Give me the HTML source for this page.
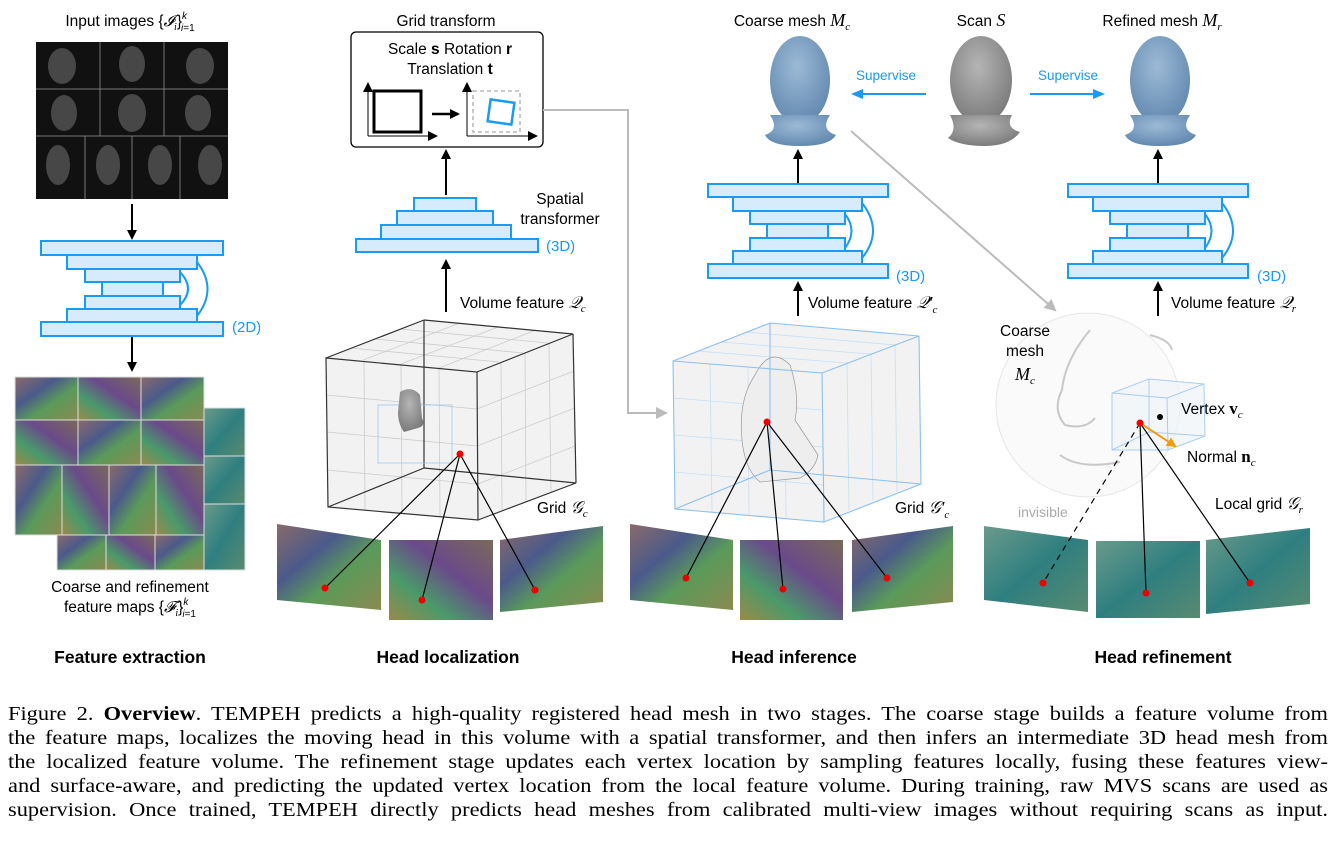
<!DOCTYPE html>
<html><head><meta charset="utf-8"><style>
body{margin:0;background:#fff;width:1336px;height:850px;overflow:hidden;position:relative}
svg{position:absolute;left:0;top:0}
.cap{position:absolute;left:8px;width:1195px;transform:scaleX(1.1046);transform-origin:0 0;font-family:"Liberation Serif",serif;font-size:20.3px;line-height:24px;color:#000}
.cap div{text-align:justify;text-align-last:justify;white-space:nowrap;height:24px}
</style></head><body>
<svg width="1336" height="850" viewBox="0 0 1336 850" font-family="Liberation Sans, sans-serif">
<defs>
<marker id="ab" markerWidth="10" markerHeight="10" refX="8" refY="5" orient="auto" markerUnits="userSpaceOnUse"><path d="M0,0 L10,5 L0,10 z" fill="#000"/></marker>
<marker id="ag" markerWidth="12" markerHeight="12" refX="10" refY="6" orient="auto" markerUnits="userSpaceOnUse"><path d="M0,0 L12,6 L0,12 z" fill="#bbb"/></marker>
<marker id="au" markerWidth="12" markerHeight="12" refX="10" refY="6" orient="auto" markerUnits="userSpaceOnUse"><path d="M0,1 L12,6 L0,11 z" fill="#1a9af0"/></marker>
<marker id="ao" markerWidth="10" markerHeight="10" refX="8" refY="5" orient="auto" markerUnits="userSpaceOnUse"><path d="M0,0 L10,5 L0,10 z" fill="#f39c12"/></marker>
<linearGradient id="fm1" x1="0" y1="0" x2="1" y2="1"><stop offset="0" stop-color="#8a6a6a"/><stop offset=".35" stop-color="#4b5a8a"/><stop offset=".6" stop-color="#5a9a5a"/><stop offset="1" stop-color="#8a8a50"/></linearGradient>
<linearGradient id="fm2" x1="1" y1="0" x2="0" y2="1"><stop offset="0" stop-color="#7a6a5a"/><stop offset=".4" stop-color="#6a4a8a"/><stop offset=".7" stop-color="#4a9a6a"/><stop offset="1" stop-color="#9a8a4a"/></linearGradient>
<linearGradient id="fm3" x1="0" y1="0" x2="1" y2="1"><stop offset="0" stop-color="#6a9a8a"/><stop offset=".5" stop-color="#2f7f80"/><stop offset="1" stop-color="#5a8a70"/></linearGradient>
<radialGradient id="hb" cx=".45" cy=".35" r=".7"><stop offset="0" stop-color="#9cbad6"/><stop offset="1" stop-color="#5f86ad"/></radialGradient>
<radialGradient id="hg" cx=".45" cy=".35" r=".7"><stop offset="0" stop-color="#b5b5b5"/><stop offset="1" stop-color="#777"/></radialGradient>
</defs>

<text x="130" y="26" font-size="15.5" text-anchor="middle">Input images {<tspan font-family="Liberation Serif" font-style="italic">𝓘<tspan font-size="10" dy="4">i</tspan></tspan><tspan dy="-4">}</tspan><tspan font-size="10" font-style="italic" dy="-7">k</tspan><tspan font-size="10" dx="-6" dy="12" font-style="italic">i</tspan><tspan font-size="10" dy="0">=1</tspan></text>
<rect x="36" y="42" width="192" height="157" fill="#111"/>
<g fill="#555" opacity=".8">
<ellipse cx="62" cy="66" rx="14" ry="18"/><ellipse cx="132" cy="64" rx="13" ry="18"/><ellipse cx="200" cy="66" rx="14" ry="18"/>
<ellipse cx="64" cy="113" rx="13" ry="18"/><ellipse cx="132" cy="113" rx="14" ry="19"/><ellipse cx="198" cy="113" rx="13" ry="18"/>
<ellipse cx="58" cy="165" rx="12" ry="20"/><ellipse cx="108" cy="165" rx="12" ry="20"/><ellipse cx="160" cy="165" rx="12" ry="20"/><ellipse cx="210" cy="165" rx="12" ry="20"/>
</g>
<g stroke="#777" stroke-width="1"><line x1="36" y1="89" x2="228" y2="89"/><line x1="36" y1="136" x2="228" y2="136"/><line x1="100" y1="42" x2="100" y2="136"/><line x1="164" y1="42" x2="164" y2="136"/><line x1="85" y1="136" x2="85" y2="199"/><line x1="132" y1="136" x2="132" y2="199"/><line x1="180" y1="136" x2="180" y2="199"/></g>
<line x1="132" y1="204" x2="132" y2="238" stroke="#000" stroke-width="2" marker-end="url(#ab)"/>
<g fill="#d6ecfc" stroke="#1a9af0" stroke-width="2">
<rect x="41" y="241" width="182" height="14"/><rect x="67" y="255" width="130" height="14"/><rect x="85" y="269" width="95" height="13"/><rect x="102" y="282" width="61" height="14"/><rect x="85" y="296" width="95" height="13"/><rect x="67" y="309" width="130" height="13"/><rect x="41" y="322" width="182" height="14"/>
</g>
<path d="M180,272 Q196,289 180,305" fill="none" stroke="#1a9af0" stroke-width="2"/>
<path d="M197,262 Q218,289 197,316" fill="none" stroke="#1a9af0" stroke-width="2"/>
<text x="232" y="332" font-size="15" fill="#1a9af0">(2D)</text>
<line x1="132" y1="337" x2="132" y2="370" stroke="#000" stroke-width="2" marker-end="url(#ab)"/>
<g stroke="#ddd" stroke-width="1">
<rect x="15" y="377" width="63" height="43" fill="url(#fm1)"/><rect x="78" y="377" width="63" height="43" fill="url(#fm2)"/><rect x="141" y="377" width="63" height="43" fill="url(#fm1)"/>
<rect x="15" y="420" width="63" height="45" fill="url(#fm2)"/><rect x="78" y="420" width="63" height="45" fill="url(#fm1)"/><rect x="141" y="420" width="63" height="45" fill="url(#fm2)"/>
<rect x="15" y="465" width="47" height="70" fill="url(#fm1)"/><rect x="62" y="465" width="47" height="70" fill="url(#fm2)"/><rect x="109" y="465" width="47" height="70" fill="url(#fm1)"/><rect x="156" y="465" width="48" height="70" fill="url(#fm2)"/>
<rect x="204" y="408" width="41" height="48" fill="url(#fm3)"/><rect x="204" y="456" width="41" height="48" fill="url(#fm3)"/><rect x="204" y="504" width="41" height="66" fill="url(#fm3)"/>
<rect x="57" y="535" width="49" height="35" fill="url(#fm1)"/><rect x="106" y="535" width="49" height="35" fill="url(#fm2)"/><rect x="155" y="535" width="49" height="35" fill="url(#fm1)"/>
</g>
<text x="130" y="592" font-size="15.5" text-anchor="middle">Coarse and refinement</text>
<text x="130" y="612" font-size="15.5" text-anchor="middle">feature maps {<tspan font-family="Liberation Serif" font-style="italic">𝓕<tspan font-size="10" dy="4">i</tspan></tspan><tspan dy="-4">}</tspan><tspan font-size="10" font-style="italic" dy="-7">k</tspan><tspan font-size="10" dx="-6" dy="12" font-style="italic">i</tspan><tspan font-size="10">=1</tspan></text>
<text x="130" y="663" font-size="17.5" font-weight="bold" text-anchor="middle">Feature extraction</text>

<text x="446" y="26" font-size="15.5" text-anchor="middle">Grid transform</text>
<rect x="351" y="32" width="192" height="115" rx="5" fill="#fff" stroke="#000" stroke-width="1.3"/>
<text x="450" y="54" font-size="15.5" text-anchor="middle">Scale <tspan font-weight="bold">s</tspan>  Rotation <tspan font-weight="bold">r</tspan></text>
<text x="450" y="74" font-size="15.5" text-anchor="middle">Translation <tspan font-weight="bold">t</tspan></text>
<line x1="368" y1="136" x2="368" y2="84" stroke="#000" stroke-width="1" marker-end="url(#ab)"/>
<line x1="368" y1="136" x2="436" y2="136" stroke="#000" stroke-width="1" marker-end="url(#ab)"/>
<rect x="374" y="91" width="47" height="41" fill="none" stroke="#000" stroke-width="3"/>
<line x1="432" y1="114" x2="458" y2="114" stroke="#000" stroke-width="2.5" marker-end="url(#ab)"/>
<line x1="467" y1="136" x2="467" y2="84" stroke="#000" stroke-width="1" marker-end="url(#ab)"/>
<line x1="467" y1="136" x2="536" y2="136" stroke="#000" stroke-width="1" marker-end="url(#ab)"/>
<rect x="473" y="91" width="47" height="41" fill="none" stroke="#aaa" stroke-width="1.3" stroke-dasharray="4,3"/>
<rect x="489" y="101" width="24" height="22" fill="none" stroke="#1a9af0" stroke-width="2.5" transform="rotate(8 501 112)"/>
<line x1="446" y1="195" x2="446" y2="151" stroke="#000" stroke-width="2" marker-end="url(#ab)"/>
<g fill="#d6ecfc" stroke="#1a9af0" stroke-width="2">
<rect x="414" y="198" width="62" height="13"/><rect x="397" y="211" width="96" height="14"/><rect x="381" y="225" width="130" height="14"/><rect x="356" y="239" width="182" height="13"/>
</g>
<text x="546" y="251" font-size="15" fill="#1a9af0">(3D)</text>
<text x="560" y="204" font-size="15.5" text-anchor="middle">Spatial</text>
<text x="560" y="224" font-size="15.5" text-anchor="middle">transformer</text>
<line x1="446" y1="312" x2="446" y2="261" stroke="#000" stroke-width="2" marker-end="url(#ab)"/>
<text x="460" y="308" font-size="15.5">Volume feature <tspan font-family="Liberation Serif" font-style="italic" font-size="17">𝒬<tspan font-size="11" dy="4">c</tspan></tspan></text>
<polyline points="543,110 628,110 628,413 666,413" fill="none" stroke="#bbb" stroke-width="2" marker-end="url(#ag)"/>

<g stroke-width="1.2">
<polygon points="326,358 424,320 573,334 576,483 478,520 328,507" fill="#f2f2f2"/>
<g stroke="#ccc" stroke-width=".8" fill="none">
<line x1="351" y1="348" x2="499" y2="362"/><line x1="375" y1="339" x2="523" y2="353"/><line x1="400" y1="329" x2="548" y2="343"/>
<line x1="363" y1="360" x2="460" y2="323"/><line x1="401" y1="364" x2="498" y2="327"/><line x1="439" y1="368" x2="536" y2="330"/>
<line x1="326" y1="395" x2="477" y2="409"/><line x1="327" y1="432" x2="477" y2="446"/><line x1="327" y1="470" x2="478" y2="484"/>
<line x1="364" y1="361" x2="365" y2="510"/><line x1="401" y1="364" x2="402" y2="513"/><line x1="439" y1="368" x2="440" y2="517"/>
<line x1="501" y1="363" x2="502" y2="511"/><line x1="525" y1="353" x2="526" y2="502"/><line x1="549" y1="344" x2="551" y2="492"/>
<line x1="477" y1="409" x2="574" y2="371"/><line x1="477" y1="446" x2="575" y2="408"/><line x1="478" y1="484" x2="575" y2="446"/>
</g>
<g fill="none" stroke="#333">
<polyline points="424,320 424,468 328,507"/><line x1="424" y1="468" x2="576" y2="483"/>
<polygon points="326,358 477,372 478,520 328,507"/><line x1="326" y1="358" x2="424" y2="320"/><line x1="424" y1="320" x2="573" y2="334"/><line x1="573" y1="334" x2="477" y2="372"/><line x1="573" y1="334" x2="576" y2="483"/><line x1="576" y1="483" x2="478" y2="520"/>
</g>
</g>
<rect x="378" y="405" width="74" height="58" fill="none" stroke="#9cc7ee" stroke-width=".8"/>
<path d="M400,392 Q412,385 420,395 L422,418 Q426,426 418,428 L404,432 Q398,424 398,412 Z" fill="url(#hg)"/>
<polygon points="277,524 381,540 381,610 277,600" fill="url(#fm1)"/>
<rect x="389" y="540" width="104" height="80" fill="url(#fm2)"/>
<polygon points="500,540 603,526 603,602 500,612" fill="url(#fm1)"/>
<g stroke="#000" stroke-width="1.2"><line x1="460" y1="454" x2="325" y2="588"/><line x1="460" y1="454" x2="422" y2="600"/><line x1="460" y1="454" x2="535" y2="590"/></g>
<g fill="#e00"><circle cx="460" cy="454" r="3.5"/><circle cx="325" cy="588" r="3.5"/><circle cx="422" cy="600" r="3.5"/><circle cx="535" cy="590" r="3.5"/></g>
<text x="537" y="513" font-size="15.5">Grid  <tspan font-family="Liberation Serif" font-style="italic" font-size="17">𝒢<tspan font-size="11" dy="4">c</tspan></tspan></text>
<text x="448" y="663" font-size="17.5" font-weight="bold" text-anchor="middle">Head localization</text>

<text x="792" y="26" font-size="15.5" text-anchor="middle">Coarse mesh <tspan font-family="Liberation Serif" font-style="italic" font-size="18">M<tspan font-size="11" dy="4">c</tspan></tspan></text>
<text x="981" y="26" font-size="15.5" text-anchor="middle">Scan <tspan font-family="Liberation Serif" font-style="italic" font-size="18">S</tspan></text>
<text x="1162" y="26" font-size="15.5" text-anchor="middle">Refined mesh <tspan font-family="Liberation Serif" font-style="italic" font-size="18">M<tspan font-size="11" dy="4">r</tspan></tspan></text>
<g fill="url(#hb)">
<ellipse cx="800" cy="80" rx="30" ry="44"/><path d="M770,115 Q780,130 765,135 Q770,146 800,146 Q830,146 836,135 Q820,130 830,115 Z"/>
<ellipse cx="1160" cy="80" rx="30" ry="44"/><path d="M1130,115 Q1140,130 1125,135 Q1130,146 1160,146 Q1190,146 1196,135 Q1180,130 1190,115 Z"/>
</g>
<g fill="url(#hg)"><ellipse cx="981" cy="80" rx="31" ry="44"/><path d="M950,115 Q958,130 948,138 Q960,146 985,146 Q1010,146 1020,132 Q1005,128 1012,115 Z"/></g>
<text x="886" y="80" font-size="13.5" fill="#1a9af0" text-anchor="middle">Supervise</text>
<line x1="926" y1="94" x2="853" y2="94" stroke="#1a9af0" stroke-width="2" marker-end="url(#au)"/>
<text x="1068" y="80" font-size="13.5" fill="#1a9af0" text-anchor="middle">Supervise</text>
<line x1="1030" y1="94" x2="1103" y2="94" stroke="#1a9af0" stroke-width="2" marker-end="url(#au)"/>
<line x1="798" y1="183" x2="798" y2="151" stroke="#000" stroke-width="2" marker-end="url(#ab)"/>
<line x1="1158" y1="183" x2="1158" y2="151" stroke="#000" stroke-width="2" marker-end="url(#ab)"/>
<g fill="#d6ecfc" stroke="#1a9af0" stroke-width="2">
<rect x="708" y="184" width="180" height="13"/><rect x="733" y="197" width="129" height="14"/><rect x="750" y="211" width="95" height="13"/><rect x="767" y="224" width="61" height="14"/><rect x="750" y="238" width="95" height="13"/><rect x="733" y="251" width="129" height="13"/><rect x="708" y="264" width="180" height="14"/>
<rect x="1068" y="184" width="180" height="13"/><rect x="1093" y="197" width="129" height="14"/><rect x="1110" y="211" width="95" height="13"/><rect x="1127" y="224" width="61" height="14"/><rect x="1110" y="238" width="95" height="13"/><rect x="1093" y="251" width="129" height="13"/><rect x="1068" y="264" width="180" height="14"/>
</g>
<path d="M845,214 Q858,231 845,248" fill="none" stroke="#1a9af0" stroke-width="2"/>
<path d="M862,203 Q884,231 862,258" fill="none" stroke="#1a9af0" stroke-width="2"/>
<path d="M1205,214 Q1218,231 1205,248" fill="none" stroke="#1a9af0" stroke-width="2"/>
<path d="M1222,203 Q1244,231 1222,258" fill="none" stroke="#1a9af0" stroke-width="2"/>
<text x="896" y="281" font-size="15" fill="#1a9af0">(3D)</text>
<text x="1257" y="281" font-size="15" fill="#1a9af0">(3D)</text>
<line x1="798" y1="316" x2="798" y2="283" stroke="#000" stroke-width="2" marker-end="url(#ab)"/>
<text x="808" y="308" font-size="15.5">Volume feature <tspan font-family="Liberation Serif" font-style="italic" font-size="17">𝒬′<tspan font-size="11" dy="5">c</tspan></tspan></text>
<line x1="1158" y1="316" x2="1158" y2="283" stroke="#000" stroke-width="2" marker-end="url(#ab)"/>
<text x="1171" y="308" font-size="15.5">Volume feature <tspan font-family="Liberation Serif" font-style="italic" font-size="17">𝒬<tspan font-size="11" dy="4">r</tspan></tspan></text>
<line x1="851" y1="131" x2="1055" y2="310" stroke="#bbb" stroke-width="2" marker-end="url(#ag)"/>

<polygon points="673,361 770,323 919,336 921,484 824,522 675,509" fill="#f2f2f2"/>
<g stroke="#c5dff5" stroke-width=".8" fill="none">
<line x1="673" y1="398" x2="822" y2="410"/><line x1="674" y1="435" x2="823" y2="447"/><line x1="674" y1="472" x2="823" y2="485"/>
<line x1="710" y1="364" x2="712" y2="512"/><line x1="748" y1="367" x2="749" y2="515"/><line x1="785" y1="370" x2="786" y2="518"/>
<line x1="847" y1="362" x2="849" y2="510"/><line x1="871" y1="353" x2="873" y2="500"/><line x1="895" y1="344" x2="897" y2="492"/>
<line x1="697" y1="351" x2="846" y2="363"/><line x1="721" y1="342" x2="870" y2="354"/><line x1="746" y1="332" x2="895" y2="345"/>
</g>
<path d="M755,375 Q770,345 790,365 Q800,395 795,420 L818,455 Q815,470 800,478 L760,482 Q745,470 742,440 Q738,400 755,375 Z" fill="#eee" stroke="#999" stroke-width=".7"/>
<g fill="none" stroke="#8cc0ef" stroke-width="1.1">
<polygon points="673,361 822,373 824,522 675,509"/><polyline points="673,361 770,323 919,336 822,373"/><polyline points="919,336 921,484 824,522"/><polyline points="770,323 770,470 675,509"/><line x1="770" y1="470" x2="921" y2="484"/>
</g>
<polygon points="630,524 733,540 733,610 630,600" fill="url(#fm1)"/>
<rect x="740" y="540" width="103" height="80" fill="url(#fm2)"/>
<polygon points="852,540 953,526 953,602 852,612" fill="url(#fm1)"/>
<g stroke="#000" stroke-width="1.2"><line x1="767" y1="422" x2="686" y2="578"/><line x1="767" y1="422" x2="783" y2="589"/><line x1="767" y1="422" x2="887" y2="578"/></g>
<g fill="#e00"><circle cx="767" cy="422" r="3.5"/><circle cx="686" cy="578" r="3.5"/><circle cx="783" cy="589" r="3.5"/><circle cx="887" cy="578" r="3.5"/></g>
<text x="895" y="513" font-size="15.5">Grid  <tspan font-family="Liberation Serif" font-style="italic" font-size="17">𝒢′<tspan font-size="11" dy="5">c</tspan></tspan></text>
<text x="794" y="663" font-size="17.5" font-weight="bold" text-anchor="middle">Head inference</text>

<circle cx="1088" cy="405" r="92" fill="#fafafa" stroke="#e6e6e6" stroke-width="1"/>
<path d="M1090,330 Q1065,360 1062,390 Q1052,410 1065,425 Q1085,430 1095,418 M1060,455 Q1080,470 1120,462 M1150,335 Q1170,340 1172,350" fill="none" stroke="#c8c8c8" stroke-width="2"/>
<text x="1025" y="336" font-size="15.5" text-anchor="middle">Coarse</text>
<text x="1025" y="356" font-size="15.5" text-anchor="middle">mesh</text>
<text x="1025" y="380" font-size="18" text-anchor="middle" font-family="Liberation Serif" font-style="italic">M<tspan font-size="11" dy="4">c</tspan></text>
<g fill="#eef3f8" fill-opacity=".7" stroke="#a9cdee" stroke-width="1">
<polygon points="1112,393 1149,379 1204,384 1205,436 1168,450 1112,450"/>
</g>
<g fill="none" stroke="#a9cdee" stroke-width="1"><polyline points="1112,393 1167,398 1168,450"/><line x1="1167" y1="398" x2="1204" y2="384"/><polyline points="1149,379 1149,432 1112,450"/><line x1="1149" y1="432" x2="1205" y2="436"/></g>
<circle cx="1160" cy="417" r="3" fill="#000"/>
<text x="1181" y="414" font-size="15.5">Vertex  <tspan font-family="Liberation Serif" font-weight="bold" font-size="17">v<tspan font-weight="normal" font-style="italic" font-size="11" dy="4">c</tspan></tspan></text>
<line x1="1140" y1="423" x2="1175" y2="446" stroke="#f39c12" stroke-width="2" marker-end="url(#ao)"/>
<text x="1187" y="462" font-size="15.5">Normal  <tspan font-family="Liberation Serif" font-weight="bold" font-size="17">n<tspan font-weight="normal" font-style="italic" font-size="11" dy="4">c</tspan></tspan></text>
<text x="1215" y="509" font-size="15.5">Local grid  <tspan font-family="Liberation Serif" font-style="italic" font-size="17">𝒢<tspan font-size="11" dy="4">r</tspan></tspan></text>
<text x="1018" y="517" font-size="14" fill="#aaa">invisible</text>
<polygon points="984,526 1088,540 1088,612 984,600" fill="url(#fm3)"/>
<rect x="1096" y="541" width="104" height="77" fill="url(#fm3)"/>
<polygon points="1206,540 1310,528 1310,604 1206,614" fill="url(#fm3)"/>
<line x1="1140" y1="423" x2="1043" y2="583" stroke="#000" stroke-width="1.2" stroke-dasharray="6,5"/>
<g stroke="#000" stroke-width="1.2"><line x1="1140" y1="423" x2="1146" y2="593"/><line x1="1140" y1="423" x2="1250" y2="583"/></g>
<g fill="#e00"><circle cx="1140" cy="423" r="3.5"/><circle cx="1043" cy="583" r="3.5"/><circle cx="1146" cy="593" r="3.5"/><circle cx="1250" cy="583" r="3.5"/></g>
<text x="1163" y="663" font-size="17.5" font-weight="bold" text-anchor="middle">Head refinement</text>
</svg>
<div class="cap" style="top:702px">
<div>Figure 2. <b>Overview</b>. TEMPEH predicts a high-quality registered head mesh in two stages. The coarse stage builds a feature volume from</div>
<div>the feature maps, localizes the moving head in this volume with a spatial transformer, and then infers an intermediate 3D head mesh from</div>
<div>the localized feature volume. The refinement stage updates each vertex location by sampling features locally, fusing these features view-</div>
<div>and surface-aware, and predicting the updated vertex location from the local feature volume. During training, raw MVS scans are used as</div>
<div>supervision. Once trained, TEMPEH directly predicts head meshes from calibrated multi-view images without requiring scans as input.</div>
</div>
</body></html>
